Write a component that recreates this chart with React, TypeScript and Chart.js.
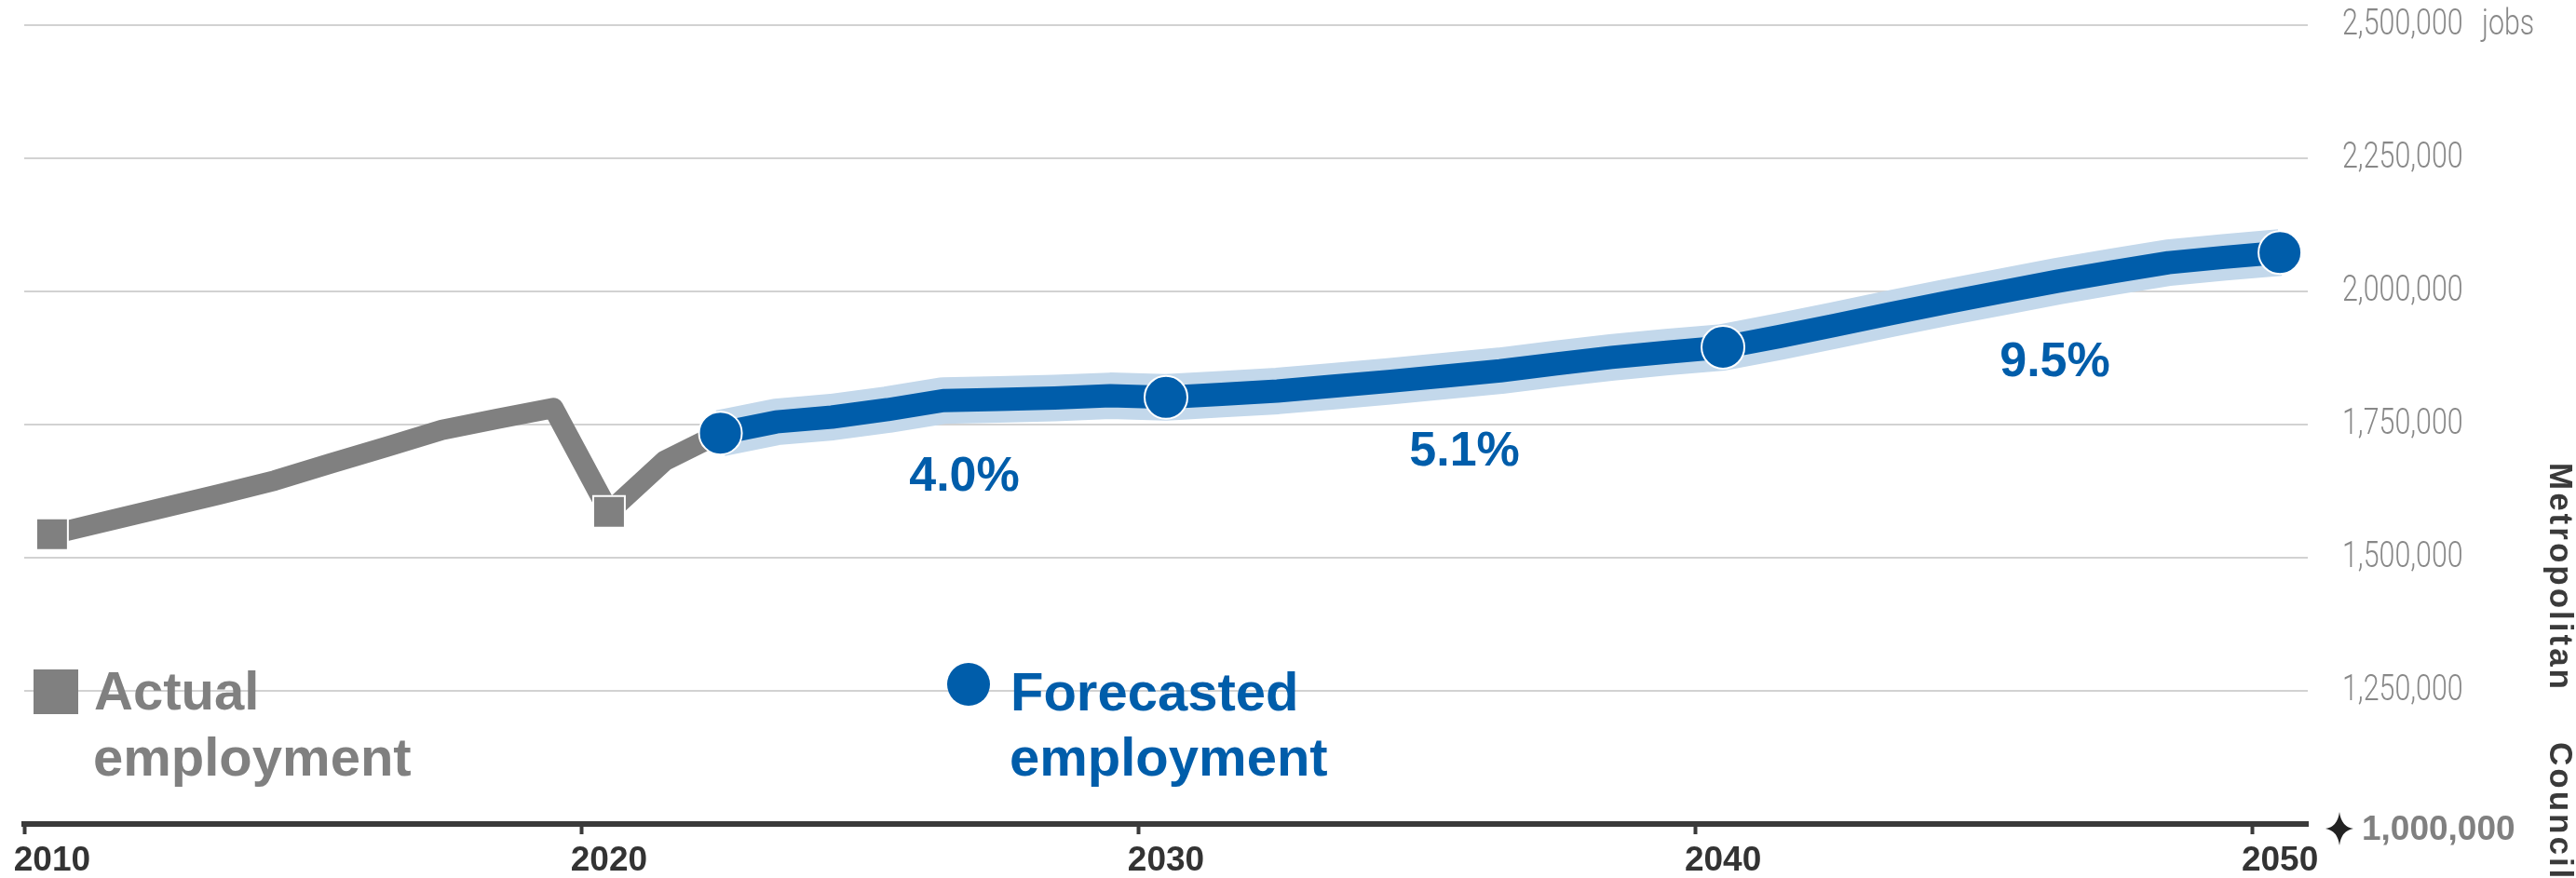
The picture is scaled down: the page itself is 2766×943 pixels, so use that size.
import React, { useEffect, useRef } from 'react';
import { Chart, registerables } from 'chart.js';

Chart.register(...registerables);

// ---- data ----
const ACTUAL_YEARS = [2010, 2011, 2012, 2013, 2014, 2015, 2016, 2017, 2018, 2019, 2020, 2021, 2022];
const ACTUAL_JOBS = [1544000, 1569000, 1594000, 1619000, 1645000, 1677000, 1708000, 1740000, 1761000, 1781000, 1586000, 1682000, 1734000];
const ACTUAL_MARKER_YEARS = [2010, 2020];

const FORECAST_YEARS = [
  2022, 2023, 2024, 2025, 2026, 2027, 2028, 2029, 2030, 2031, 2032, 2033, 2034, 2035, 2036,
  2037, 2038, 2039, 2040, 2041, 2042, 2043, 2044, 2045, 2046, 2047, 2048, 2049, 2050,
];
const FORECAST_JOBS = [
  1734000, 1755000, 1764000, 1778000, 1795000, 1797000, 1800000, 1804000, 1801000, 1807000,
  1813000, 1822000, 1831000, 1841000, 1851000, 1864000, 1876000, 1886000, 1895000, 1915000,
  1936000, 1958000, 1979000, 1999000, 2019000, 2037000, 2054000, 2064000, 2073000,
];
const FORECAST_MARKER_YEARS = [2022, 2030, 2040, 2050];

const X_TICKS = [2010, 2020, 2030, 2040, 2050];
const Y_TICKS = [1000000, 1250000, 1500000, 1750000, 2000000, 2250000, 2500000];
const Y_UNIT = 'jobs';

const GROWTH_LABELS = ['4.0%', '5.1%', '9.5%'];
// label anchors in data space (year, jobs) – text baseline centre
const GROWTH_LABEL_YEARS = [2026.88, 2035.86, 2046.46];
const GROWTH_LABEL_JOBS = [1626000, 1673000, 1841000];

const LEGEND_ACTUAL = ['Actual', 'employment'];
const LEGEND_FORECAST = ['Forecasted', 'employment'];
const SOURCE = ['Metropolitan', 'Council'];

// ---- styles ----
const GRAY = '#808080';
const BLUE = '#005daa';
const HALO = '#c3d8eb';
const DARK = '#3a3a3a';
const SANS = '"Liberation Sans", Arial, sans-serif';
const LIGHT = 'Roboto, "Liberation Sans", sans-serif';
const CONDENSE = 0.8;

const fmt = (v: number) => v.toLocaleString('en-US');
const MID = 0.5; // annual values plotted mid-year

export default function App() {
  const ref = useRef<HTMLCanvasElement | null>(null);

  useEffect(() => {
    const canvas = ref.current;
    if (!canvas) return;

    const actualData = ACTUAL_YEARS.map((y, i) => ({ x: y + MID, y: ACTUAL_JOBS[i] }));
    const forecastData = FORECAST_YEARS.map((y, i) => ({ x: y + MID, y: FORECAST_JOBS[i] }));

    const condensedText = (ctx: CanvasRenderingContext2D, text: string, x: number, y: number) => {
      ctx.save();
      ctx.translate(x, y);
      ctx.scale(CONDENSE, 1);
      ctx.fillText(text, 0, 0);
      ctx.restore();
    };

    const overlay = {
      id: 'overlay',
      afterDatasetsDraw(chart: any) {
        const ctx = chart.ctx as CanvasRenderingContext2D;
        const xs = chart.scales.x;
        const ys = chart.scales.y;
        ctx.save();
        ctx.fillStyle = BLUE;
        ctx.font = `bold 52px ${SANS}`;
        ctx.textAlign = 'center';
        ctx.textBaseline = 'alphabetic';
        GROWTH_LABELS.forEach((t, i) => {
          ctx.fillText(t, xs.getPixelForValue(GROWTH_LABEL_YEARS[i]), ys.getPixelForValue(GROWTH_LABEL_JOBS[i]));
        });
        ctx.restore();
      },
      afterDraw(chart: any) {
        const ctx = chart.ctx as CanvasRenderingContext2D;
        const xs = chart.scales.x;
        const ys = chart.scales.y;
        ctx.save();

        // x tick labels (centred mid-year)
        ctx.fillStyle = '#333333';
        ctx.font = `bold 37px ${SANS}`;
        ctx.textAlign = 'center';
        ctx.textBaseline = 'alphabetic';
        xs.ticks.forEach((t: any) => {
          ctx.fillText(String(t.value), xs.getPixelForValue(t.value + MID), xs.top + 50);
        });

        // y tick labels (light, condensed)
        ctx.fillStyle = '#888888';
        ctx.font = `300 38px ${LIGHT}`;
        ctx.textAlign = 'left';
        ctx.textBaseline = 'middle';
        ys.ticks.forEach((t: any) => {
          if (t.value === Y_TICKS[0]) return;
          const py = ys.getPixelForValue(t.value);
          condensedText(ctx, fmt(t.value), ys.left + 37, py);
          if (t.value === Y_TICKS[Y_TICKS.length - 1]) condensedText(ctx, Y_UNIT, ys.left + 187, py);
        });

        // baseline value with star
        const yb = ys.getPixelForValue(Y_TICKS[0]);
        const sx = 2512;
        const sy = yb + 5;
        ctx.fillStyle = '#222';
        ctx.beginPath();
        ctx.moveTo(sx, sy - 18);
        ctx.quadraticCurveTo(sx + 2, sy - 2, sx + 15, sy);
        ctx.quadraticCurveTo(sx + 2, sy + 2, sx, sy + 18);
        ctx.quadraticCurveTo(sx - 2, sy + 2, sx - 15, sy);
        ctx.quadraticCurveTo(sx - 2, sy - 2, sx, sy - 18);
        ctx.fill();
        ctx.fillStyle = GRAY;
        ctx.font = `bold 37px ${SANS}`;
        ctx.textAlign = 'left';
        ctx.textBaseline = 'alphabetic';
        ctx.fillText(fmt(Y_TICKS[0]), 2536, yb + 17);

        // legend: actual
        ctx.fillStyle = GRAY;
        ctx.fillRect(36, 719, 48, 48);
        ctx.font = `bold 58px ${SANS}`;
        ctx.fillText(LEGEND_ACTUAL[0], 101, 762);
        ctx.fillText(LEGEND_ACTUAL[1], 100, 833);

        // legend: forecast
        ctx.fillStyle = BLUE;
        ctx.beginPath();
        ctx.arc(1040, 735, 23, 0, Math.PI * 2);
        ctx.fill();
        ctx.fillText(LEGEND_FORECAST[0], 1085, 763);
        ctx.fillText(LEGEND_FORECAST[1], 1084, 833);

        // vertical source text
        ctx.fillStyle = DARK;
        ctx.font = `bold 35px ${SANS}`;
        (ctx as any).letterSpacing = '3px';
        ctx.translate(2738, 497);
        ctx.rotate(Math.PI / 2);
        ctx.fillText(SOURCE[0], 0, 0);
        ctx.fillText(SOURCE[1], 300, 0);
        ctx.restore();
      },
    };

    const chart = new Chart(canvas, {
      type: 'line',
      data: {
        datasets: [
          {
            label: 'Actual employment',
            data: actualData,
            borderColor: GRAY,
            borderWidth: 22,
            borderJoinStyle: 'round',
            pointStyle: 'rect',
            pointRadius: ACTUAL_YEARS.map((y) => (ACTUAL_MARKER_YEARS.includes(y) ? 24 : 0)),
            pointBackgroundColor: GRAY,
            pointBorderColor: '#ffffff',
            pointBorderWidth: 2,
            order: 3,
          },
          {
            label: 'halo',
            data: forecastData,
            borderColor: HALO,
            borderWidth: 50,
            borderJoinStyle: 'round',
            pointRadius: 0,
            order: 2,
          },
          {
            label: 'Forecasted employment',
            data: forecastData,
            borderColor: BLUE,
            borderWidth: 25,
            borderJoinStyle: 'round',
            pointStyle: 'circle',
            pointRadius: FORECAST_YEARS.map((y) => (FORECAST_MARKER_YEARS.includes(y) ? 23 : 0)),
            pointBackgroundColor: BLUE,
            pointBorderColor: '#ffffff',
            pointBorderWidth: 2,
            order: 1,
          },
        ],
      } as any,
      options: {
        responsive: false,
        animation: false,
        devicePixelRatio: 1,
        layout: { padding: { left: 22, top: 27, right: 0, bottom: 0 } },
        plugins: { legend: { display: false }, tooltip: { enabled: false } },
        scales: {
          x: {
            type: 'linear',
            min: 2010,
            max: 2051,
            afterBuildTicks: (s: any) => {
              s.ticks = X_TICKS.map((v) => ({ value: v }));
            },
            afterFit: (s: any) => {
              s.height = 58;
              s.paddingLeft = 0;
              s.paddingRight = 0;
              s.paddingTop = 0;
              s.paddingBottom = 0;
            },
            grid: {
              drawOnChartArea: false,
              drawTicks: true,
              tickLength: 11,
              tickWidth: 4,
              tickColor: DARK,
            },
            border: { display: true, color: DARK, width: 6 },
            ticks: { display: false },
          },
          y: {
            type: 'linear',
            position: 'right',
            min: Y_TICKS[0],
            max: Y_TICKS[Y_TICKS.length - 1],
            afterBuildTicks: (s: any) => {
              s.ticks = Y_TICKS.map((v) => ({ value: v }));
            },
            afterFit: (s: any) => {
              s.width = 288;
              s.paddingLeft = 0;
              s.paddingRight = 0;
              s.paddingTop = 0;
              s.paddingBottom = 0;
            },
            grid: {
              color: (c: any) => (c.tick && c.tick.value === Y_TICKS[0] ? 'rgba(0,0,0,0)' : '#d2d2d2'),
              lineWidth: 2,
              drawTicks: false,
            },
            border: { display: false },
            ticks: { display: false },
          },
        },
      } as any,
      plugins: [overlay],
    });

    return () => chart.destroy();
  }, []);

  return (
    <div style={{ position: 'absolute', left: 0, top: 0, width: 2766, height: 943, background: '#fff' }}>
      <canvas ref={ref} width={2766} height={943} style={{ width: 2766, height: 943, display: 'block' }} />
    </div>
  );
}
